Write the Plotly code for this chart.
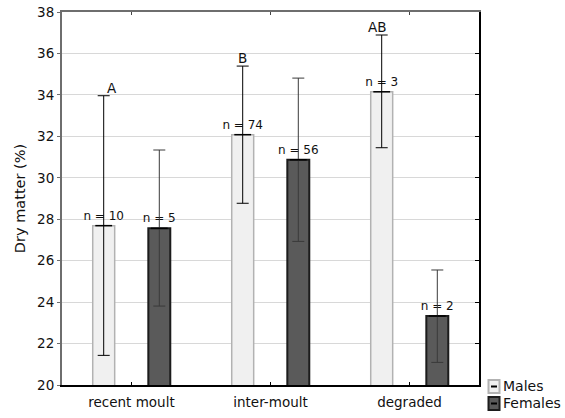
import plotly.graph_objects as go

# ---- data ----
categories = ["recent moult", "inter-moult", "degraded"]
males_mean = [27.69, 32.08, 34.15]
males_upper = [33.96, 35.39, 36.89]
males_lower = [21.43, 28.77, 31.45]
females_mean = [27.56, 30.87, 23.33]
females_upper = [31.34, 34.81, 25.55]
females_lower = [23.81, 26.93, 21.09]
males_n = [10, 74, 3]
females_n = [5, 56, 2]
group_letters = ["A", "B", "AB"]
y_ticks = [20, 22, 24, 26, 28, 30, 32, 34, 36, 38]
series_names = ["Males", "Females"]

FONT = "DejaVu Sans"
W, H = 565, 418
L, R, T, B = 62, 86, 12, 33
PW, PH = W - L - R, H - T - B

male_fill, male_edge = "#f0f0f0", "#b2b2b2"
fem_fill, fem_edge = "#5a5a5a", "#1c1c1c"


def px2x(px):
    return (px - L) / PW


def px2y(py):
    return (H - B - py) / PH


fig = go.Figure()

fig.add_trace(go.Bar(
    x=categories, y=males_mean, name=series_names[0], offsetgroup="m",
    marker=dict(color=male_fill, line=dict(color=male_edge, width=1.5)),
    error_y=dict(type="data", symmetric=False,
                 array=[u - m for u, m in zip(males_upper, males_mean)],
                 arrayminus=[m - l for m, l in zip(males_mean, males_lower)],
                 color="#000000", thickness=1, width=6),
    text=[f"n = {n}" for n in males_n], textposition="outside",
    textfont=dict(family=FONT, size=12, color="#111111"),
    constraintext="none", cliponaxis=False, showlegend=False,
))
fig.add_trace(go.Bar(
    x=categories, y=females_mean, name=series_names[1], offsetgroup="f",
    marker=dict(color=fem_fill, line=dict(color=fem_edge, width=2)),
    error_y=dict(type="data", symmetric=False,
                 array=[u - m for u, m in zip(females_upper, females_mean)],
                 arrayminus=[m - l for m, l in zip(females_mean, females_lower)],
                 color="#3a3a3a", thickness=1, width=6),
    text=[f"n = {n}" for n in females_n], textposition="outside",
    textfont=dict(family=FONT, size=12, color="#111111"),
    constraintext="none", cliponaxis=False, showlegend=False,
))

# mean ticks on bar tops
fig.add_trace(go.Scatter(
    x=categories, y=males_mean, mode="markers", offsetgroup="m",
    marker=dict(symbol="line-ew", size=12, line=dict(color="#000000", width=1.5)),
    showlegend=False, hoverinfo="skip", cliponaxis=False,
))
fig.add_trace(go.Scatter(
    x=categories, y=females_mean, mode="markers", offsetgroup="f",
    marker=dict(symbol="line-ew", size=12, line=dict(color="#000000", width=1.5)),
    showlegend=False, hoverinfo="skip", cliponaxis=False,
))

# empty trace so the mirrored top / right axes get drawn
fig.add_trace(go.Scatter(x=[None], y=[None], xaxis="x2", yaxis="y2", mode="markers",
                         showlegend=False, hoverinfo="skip"))

# group letters above male upper whiskers
letter_shift = [8, 0, -4]
for cat, up, lab, sh in zip(categories, males_upper, group_letters, letter_shift):
    fig.add_annotation(x=cat, y=up, xref="x", yref="y", text=lab, showarrow=False,
                       xanchor="center", yanchor="bottom", xshift=-28 + sh, yshift=-2,
                       font=dict(family=FONT, size=13.5, color="#111111"))

# legend drawn manually
legend_rows = [(series_names[0], male_fill, male_edge, 380, 393),
               (series_names[1], fem_fill, fem_edge, 397, 410)]
for name, fill, edge, y0, y1 in legend_rows:
    fig.add_shape(type="rect", xref="paper", yref="paper",
                  x0=px2x(488.5), x1=px2x(499.5), y0=px2y(y1), y1=px2y(y0),
                  fillcolor=fill, line=dict(color=edge, width=2))
    ym = (y0 + y1) / 2
    fig.add_shape(type="line", xref="paper", yref="paper",
                  x0=px2x(491), x1=px2x(497), y0=px2y(ym), y1=px2y(ym),
                  line=dict(color="#000000", width=2))
    fig.add_annotation(x=px2x(500.5), y=px2y(ym), xref="paper", yref="paper",
                       text=name, showarrow=False, xanchor="left", yanchor="middle",
                       font=dict(family=FONT, size=14, color="#111111"))

fig.update_layout(
    width=W, height=H,
    margin=dict(l=L, r=R, t=T, b=B, pad=0, autoexpand=False),
    paper_bgcolor="white", plot_bgcolor="white",
    barmode="group", bargap=0.2, bargroupgap=0.605,
    scattermode="group", scattergap=0.2,
    showlegend=False,
    font=dict(family=FONT, size=13.5, color="#111111"),
    xaxis=dict(type="category", categoryorder="array", categoryarray=categories,
               range=[-0.5, 2.5], showline=True, linecolor="#000000", linewidth=2,
               ticks="inside", ticklen=3, tickcolor="#000000", showgrid=False,
               zeroline=False, automargin=False, ticklabelstandoff=4,
               tickfont=dict(family=FONT, size=13.5, color="#111111")),
    xaxis2=dict(overlaying="x", side="top", anchor="y2", range=[-0.5, 2.5],
                tickvals=[0, 1, 2], showticklabels=False, showline=True,
                linecolor="#6e6e6e", linewidth=2, ticks="inside", ticklen=3,
                tickcolor="#444444", showgrid=False, zeroline=False, automargin=False),
    yaxis=dict(range=[20, 38], tickvals=y_ticks, showline=True, linecolor="#6e6e6e",
               linewidth=2, ticks="outside", ticklen=3, tickcolor="#6e6e6e",
               showgrid=True, gridcolor="#d8d8d8", gridwidth=1, zeroline=False,
               automargin=False,
               tickfont=dict(family=FONT, size=13.5, color="#111111"),
               title=dict(text="Dry matter (%)", font=dict(family=FONT, size=14.5),
                          standoff=8)),
    yaxis2=dict(overlaying="y", side="right", anchor="x2", range=[20, 38],
                tickvals=y_ticks, showticklabels=False, showline=True,
                linecolor="#000000", linewidth=2, ticks="inside", ticklen=4,
                tickcolor="#000000", showgrid=False, zeroline=False, automargin=False),
)

fig.write_html("out.html", config={"displayModeBar": False},
               post_script="document.body.style.margin='0';document.body.style.padding='0';")
